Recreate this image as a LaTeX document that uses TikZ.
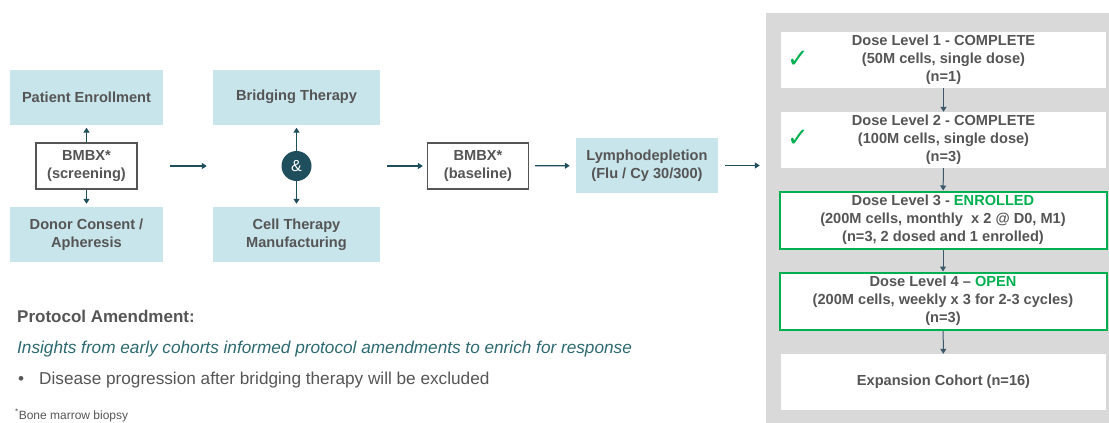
\documentclass[tikz,border=0pt]{standalone}
\usepackage{fontspec}
\setmainfont{Liberation Sans}
\newfontfamily\symfont{DejaVu Sans}
\usetikzlibrary{arrows.meta}
\definecolor{boxblue}{RGB}{201,229,236}
\definecolor{txtgrey}{RGB}{85,85,85}
\definecolor{tealdark}{RGB}{31,78,92}
\definecolor{tealtext}{RGB}{45,105,112}
\definecolor{okgreen}{RGB}{0,176,80}
\definecolor{panelgrey}{RGB}{217,217,217}
\definecolor{arrowgrey}{RGB}{60,88,105}
\tikzset{
  boxtext/.style={text=txtgrey, font=\fontsize{14.6}{18}\selectfont\bfseries, align=center, inner sep=0pt},
  bluebox/.style={boxtext, fill=boxblue, minimum width=153pt, minimum height=55pt},
  bmbxbox/.style={boxtext, draw=txtgrey, line width=1.2pt, fill=white, minimum width=101pt, minimum height=46pt},
  dosebox/.style={boxtext, fill=white, minimum width=325pt, minimum height=56pt},
  openbox/.style={dosebox, draw=okgreen, line width=2pt, minimum width=327pt, minimum height=57pt},
  flow/.style={draw=tealdark, line width=1.3pt, -{Triangle[length=5pt,width=6pt]}},
  doseflow/.style={draw=arrowgrey, line width=1pt, -{Triangle[length=5pt,width=6pt]}},
  plaintext/.style={anchor=west, inner sep=0pt, text=txtgrey, font=\fontsize{17.2}{20}\selectfont},
  tick/.style={text=okgreen, font=\symfont\fontsize{26}{26}\selectfont},
}
\begin{document}
\begin{tikzpicture}[x=1pt, y=-1pt]
			%%%%% START %%%%%
			\useasboundingbox (0,0) rectangle (1109,423);
			
			% screening
			\node[bluebox] (pat) at (86.5,97) {Patient Enrollment};
			\node[bmbxbox] (scr) at (86.5,166) {BMBX*\\(screening)};
			\node[bluebox] (donor) at (86.5,234.5) {Donor Consent /\\Apheresis};
			\draw[flow, shorten >=3pt] (scr) -- (pat);
			\draw[flow, shorten >=3pt] (scr) -- (donor);
			
			% bridging & manufacturing
			\node[bluebox, minimum width=167pt] (bridge) at (296.5,97) {Bridging Therapy};
			\node[bluebox, minimum width=167pt] (cell) at (296.5,234.5) {Cell Therapy\\Manufacturing};
			\node[circle, fill=tealdark, text=white, minimum size=30pt, inner sep=0pt, font=\fontsize{16}{16}\selectfont] (amp) at (296.5,166) {\&};
			\draw[flow, shorten >=3pt] (amp) -- (bridge);
			\draw[flow, shorten >=3pt] (amp) -- (cell);
			\draw[flow, shorten <=7pt, shorten >=6pt] (pat.east |- amp) -- (bridge.west |- amp);
			
			% baseline and lymphodepletion
			\node[bmbxbox] (base) at (478,166) {BMBX*\\(baseline)};
			\node[bluebox, minimum width=142pt] (lympho) at (647,165.5) {Lymphodepletion\\(Flu / Cy 30/300)};
			\draw[flow, shorten <=7pt, shorten >=4pt] (bridge.east |- amp) -- (base);
			\draw[flow, shorten <=6pt, shorten >=6pt] (base) -- (lympho);
			
			% dose escalation
			\node[fill=panelgrey, minimum width=343pt, minimum height=410pt, inner sep=0pt] (panel) at (937.5,218) {};
			\draw[flow, shorten <=7pt, shorten >=6pt] (lympho) -- (lympho -| panel.west);
			
			\node[dosebox] (dl1) at (943.5,59.5) {Dose Level 1 - COMPLETE\\(50M cells, single dose)\\(n=1)};
			\node[dosebox] (dl2) at (943.5,140) {Dose Level 2 - COMPLETE\\(100M cells, single dose)\\(n=3)};
			\node[openbox] (dl3) at (943,220) {Dose Level 3 - \textcolor{okgreen}{ENROLLED}\\(200M cells, monthly\ \ x 2 @ D0, M1)\\(n=3, 2 dosed and 1 enrolled)};
			\node[openbox] (dl4) at (943,301) {Dose Level 4 -- \textcolor{okgreen}{OPEN}\\(200M cells, weekly x 3 for 2-3 cycles)\\(n=3)};
			\node[dosebox] (exp) at (943.5,382) {Expansion Cohort (n=16)};
			\foreach \a/\b in {dl1/dl2, dl2/dl3, dl3/dl4, dl4/exp}
				\draw[doseflow] (\a) -- (\b);
			
			\node[tick] (chk1) at (798,59) {✓};
			\node[tick] (chk2) at (798,138) {✓};
			
			% amendment text
			\node[plaintext, font=\fontsize{17}{20}\selectfont\bfseries] (hdr) at (17,316) {Protocol Amendment:};
			\node[plaintext, text=tealtext, font=\fontsize{17.2}{20}\selectfont\itshape] (note) at (17,349) {Insights from early cohorts informed protocol amendments to enrich for response};
			\node[plaintext] (dot) at (18,380) {•};
			\node[plaintext] (item) at (39,380) {Disease progression after bridging therapy will be excluded};
			\node[plaintext, anchor=base west, font=\fontsize{12}{13}\selectfont] (foot) at (15,419) {\textsuperscript{*}Bone marrow biopsy};
			
			%%%%% END %%%%%
\end{tikzpicture}
\end{document}
